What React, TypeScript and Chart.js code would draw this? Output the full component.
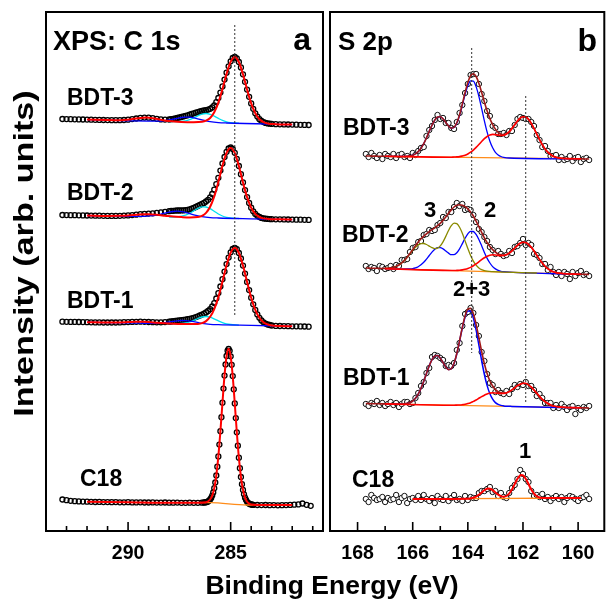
import React, { useEffect, useRef } from "react";
import { Chart, registerables } from "chart.js";

Chart.register(...registerables);

const FONT = '"Liberation Sans", Arial, Helvetica, sans-serif';

// ================= Panel a : C 1s =================
const eA = [293.2, 293.0, 292.8, 292.6, 292.4, 292.2, 292.0, 291.8, 291.6, 291.4, 291.2, 291.0, 290.8, 290.6, 290.4, 290.2, 290.0, 289.8, 289.6, 289.4, 289.2, 289.0, 288.8, 288.6, 288.4, 288.2,
  288.0, 287.9, 287.8, 287.7, 287.6, 287.5, 287.4, 287.3, 287.2, 287.1, 287.0, 286.9, 286.8, 286.7, 286.6, 286.5, 286.4, 286.3, 286.2, 286.1, 286.0, 285.9, 285.8, 285.7, 285.6, 285.5, 285.4, 285.3, 285.2, 285.1, 285.0, 284.9, 284.8, 284.7, 284.6, 284.5, 284.4, 284.3, 284.2, 284.1, 284.0, 283.9, 283.8, 283.7, 283.6, 283.5, 283.4, 283.3, 283.2, 283.1, 283.0,
  282.8, 282.6, 282.4, 282.2, 282.0, 281.8, 281.6, 281.4, 281.2];

const c1sBDT3 = [412.0, 411.9, 411.8, 411.7, 411.6, 411.5, 411.4, 411.3, 411.2, 411.1, 411.0, 410.9, 410.8, 410.8, 410.8, 411.0, 411.3, 411.9, 412.5, 413.1, 413.4, 413.3, 412.9, 412.2, 411.6, 411.4,
  411.5, 411.8, 412.1, 412.5, 413.0, 413.5, 414.0, 414.6, 415.2, 415.7, 416.3, 417.0, 417.7, 418.3, 418.9, 419.5, 420.0, 420.5, 420.9, 421.4, 422.2, 423.6, 425.7, 428.8, 433.0, 438.4, 444.6, 451.4, 458.3, 464.7, 469.7, 473.0, 474.0, 472.7, 469.0, 463.6, 456.7, 449.2, 441.4, 434.2, 427.6, 422.2, 417.7, 414.4, 411.8, 410.1, 408.9, 408.1, 407.6, 407.3, 407.1,
  406.8, 406.7, 406.6, 406.5, 406.4, 406.3, 406.2, 406.1, 406.0];

const c1sBDT2 = [316.0, 315.9, 315.8, 315.8, 315.7, 315.6, 315.5, 315.4, 315.3, 315.3, 315.2, 315.1, 315.1, 315.1, 315.2, 315.4, 315.6, 315.9, 316.3, 316.8, 317.1, 317.4, 317.7, 318.1, 318.7, 319.2,
  319.8, 320.1, 320.2, 320.4, 320.5, 320.5, 320.6, 320.7, 320.8, 321.2, 321.6, 322.3, 323.1, 324.0, 325.0, 326.0, 327.1, 328.1, 329.5, 331.2, 333.7, 337.0, 341.4, 346.9, 353.2, 360.4, 367.5, 374.0, 379.2, 382.5, 383.5, 382.0, 378.2, 372.2, 365.0, 356.8, 348.6, 340.9, 333.9, 328.1, 323.3, 319.7, 317.1, 315.2, 314.0, 313.1, 312.6, 312.3, 312.1, 311.9, 311.8,
  311.7, 311.7, 311.6, 311.5, 311.4, 311.3, 311.3, 311.2, 311.1];

const c1sBDT1 = [209.3, 209.2, 209.1, 209.1, 209.0, 208.9, 208.8, 208.7, 208.6, 208.6, 208.5, 208.5, 208.5, 208.5, 208.6, 208.8, 208.9, 209.1, 209.2, 209.3, 209.2, 209.0, 208.8, 208.7, 208.7, 208.9,
  209.3, 209.5, 209.8, 210.1, 210.4, 210.6, 210.9, 211.2, 211.4, 211.8, 212.1, 212.6, 213.2, 213.9, 214.7, 215.5, 216.4, 217.3, 218.6, 220.0, 221.9, 224.5, 227.9, 232.5, 237.9, 244.5, 251.8, 259.4, 266.9, 273.4, 278.7, 282.0, 283.1, 281.8, 278.0, 272.5, 265.4, 257.4, 249.1, 240.9, 233.3, 226.7, 221.1, 216.6, 213.2, 210.6, 208.7, 207.4, 206.5, 206.0, 205.5,
  205.1, 205.0, 204.9, 204.8, 204.7, 204.7, 204.6, 204.5, 204.3];

const eC18 = [293.2, 293.0, 292.8, 292.6, 292.4, 292.2, 292.0, 291.8, 291.6, 291.4, 291.2, 291.0, 290.8, 290.6, 290.4, 290.2, 290.0, 289.8, 289.6, 289.4, 289.2, 289.0, 288.8, 288.6, 288.4, 288.2, 288.0, 287.8, 287.6, 287.4, 287.2, 287.0, 286.8, 286.6, 286.4,
  286.3, 286.25, 286.2, 286.15, 286.1, 286.05, 286.0, 285.95, 285.9, 285.85, 285.8, 285.75, 285.7, 285.65, 285.6, 285.55, 285.5, 285.45, 285.4, 285.35, 285.3, 285.25, 285.2, 285.15, 285.1, 285.05, 285.0, 284.95, 284.9, 284.85, 284.8, 284.75, 284.7, 284.65, 284.6, 284.55, 284.5, 284.45, 284.4, 284.35, 284.3, 284.25, 284.2, 284.15, 284.1, 284.05, 284.0, 283.95, 283.9,
  283.7, 283.5, 283.3, 283.1, 282.9, 282.7, 282.5, 282.3, 282.1, 281.9, 281.7, 281.5, 281.3, 281.1];

const c1sC18 = [31.5, 30.8, 30.2, 29.8, 29.6, 29.4, 29.3, 29.2, 29.0, 29.1, 28.9, 28.9, 28.8, 28.9, 28.7, 28.7, 28.8, 28.6, 28.6, 28.7, 28.5, 28.5, 28.6, 28.4, 28.4, 28.5, 28.3, 28.3, 28.4, 28.2, 28.2, 28.3, 28.2, 28.2, 28.3,
  28.5, 28.6, 28.8, 29.1, 29.6, 30.4, 31.5, 33.1, 35.4, 38.6, 42.8, 48.5, 55.5, 64.3, 74.6, 86.4, 99.8, 113.8, 128.3, 142.4, 155.4, 166.5, 175.0, 180.3, 182.2, 180.2, 174.7, 166.2, 154.9, 141.7, 127.6, 112.9, 98.7, 85.3, 73.3, 62.8, 54.0, 46.8, 41.1, 36.7, 33.3, 31.0, 29.2, 28.1, 27.3, 26.8, 26.5, 26.3, 26.1,
  26.0, 25.9, 26.0, 25.8, 25.9, 25.7, 25.8, 25.9, 26.1, 26.3, 26.6, 27.5, 26.2, 25.2];

// fitted components, panel a
const a3RedE = [292.0, 291.0, 290.6, 290.2, 289.8, 289.4, 289.1, 288.8, 288.4, 288.0, 287.4, 286.8, 286.4, 286.2, 286.0, 285.8, 285.6, 285.4, 285.2, 285.0, 284.8, 284.6, 284.4, 284.2, 284.0, 283.8, 283.6, 283.4, 283.2, 282.8, 282.0];
const a3Red = [411.4, 410.9, 410.8, 411.0, 411.9, 413.1, 413.45, 412.8, 411.2, 409.9, 409.1, 408.85, 409.2, 410.3, 413.0, 418.7, 428.4, 442.0, 457.1, 469.2, 473.8, 469.0, 456.7, 441.4, 427.6, 417.7, 411.8, 408.9, 407.6, 406.8, 406.4];
const a3CyanE = [288.0, 287.6, 287.2, 287.0, 286.8, 286.6, 286.4, 286.2, 286.0, 285.8, 285.6, 285.4, 285.2, 285.0, 284.8, 284.6];
const a3Cyan = [409.4, 409.4, 410.2, 411.4, 413.2, 415.2, 416.9, 417.5, 416.7, 414.8, 412.6, 410.6, 409.2, 408.4, 408.0, 407.75];
const a3BlueE = [292.0, 289.0, 288.6, 288.2, 288.0, 287.8, 287.6, 287.4, 287.2, 287.0, 286.8, 286.6, 286.4, 286.2, 286.0, 285.6, 285.2, 282.0];
const a3Blue = [411.4, 409.9, 409.9, 410.4, 411.0, 411.8, 412.7, 413.5, 413.9, 413.8, 413.2, 412.2, 411.1, 410.1, 409.3, 408.4, 408.0, 406.4];

const a2RedE = [292.0, 291.0, 290.4, 290.0, 289.6, 289.2, 289.0, 288.6, 288.2, 287.8, 287.4, 287.0, 286.6, 286.4, 286.2, 286.0, 285.8, 285.6, 285.4, 285.2, 285.0, 284.8, 284.6, 284.4, 284.2, 284.0, 283.8, 283.6, 283.4, 283.2, 282.6, 282.0];
const a2Red = [315.5, 315.1, 315.2, 315.6, 316.2, 316.8, 316.8, 316.2, 315.3, 314.4, 313.9, 313.6, 314.0, 315.2, 318.1, 324.2, 334.6, 349.1, 365.3, 378.2, 383.1, 378.1, 365.0, 348.6, 333.9, 323.3, 317.1, 314.0, 312.6, 312.1, 311.7, 311.4];
const a2CyanE = [288.0, 287.6, 287.2, 287.0, 286.8, 286.6, 286.4, 286.3, 286.2, 286.0, 285.8, 285.6, 285.4, 285.2, 285.0, 284.8, 284.6];
const a2Cyan = [313.9, 314.2, 315.8, 317.6, 320.1, 322.6, 324.1, 324.2, 324.0, 322.3, 319.7, 317.0, 315.0, 313.7, 313.0, 312.7, 312.5];
const a2BlueE = [292.0, 289.6, 289.2, 288.8, 288.4, 288.0, 287.8, 287.6, 287.4, 287.2, 286.8, 286.4, 286.0, 285.6, 284.0, 282.0];
const a2Blue = [315.5, 314.6, 314.7, 315.3, 316.9, 318.9, 319.5, 319.8, 319.4, 318.6, 316.2, 314.4, 313.4, 313.0, 312.2, 311.4];

const a1RedE = [292.0, 291.0, 290.4, 290.0, 289.6, 289.3, 289.0, 288.6, 288.2, 287.8, 287.2, 286.8, 286.6, 286.4, 286.2, 286.0, 285.8, 285.6, 285.4, 285.2, 285.0, 284.8, 284.6, 284.4, 284.2, 284.0, 283.8, 283.6, 283.4, 283.2, 283.0, 282.6, 282.0];
const a1Red = [208.8, 208.5, 208.6, 208.9, 209.2, 209.2, 209.0, 208.3, 207.7, 207.25, 206.9, 206.9, 207.1, 207.9, 209.9, 214.2, 221.9, 233.9, 249.6, 265.8, 278.2, 282.9, 278.0, 265.4, 249.1, 233.3, 221.1, 213.2, 208.7, 206.5, 205.5, 205.0, 204.7];
const a1CyanE = [287.8, 287.4, 287.2, 287.0, 286.8, 286.6, 286.4, 286.2, 286.0, 285.8, 285.6, 285.4, 285.2, 285.0, 284.6];
const a1Cyan = [207.2, 207.5, 208.0, 209.0, 210.7, 212.5, 214.0, 214.5, 213.8, 212.1, 210.1, 208.4, 207.2, 206.5, 205.85];
const a1BlueE = [292.0, 289.4, 289.0, 288.6, 288.2, 288.0, 287.8, 287.6, 287.4, 287.2, 287.0, 286.8, 286.6, 286.4, 286.0, 285.6, 284.0, 282.0];
const a1Blue = [208.8, 207.8, 207.7, 207.7, 208.4, 209.0, 209.6, 210.2, 210.5, 210.4, 209.9, 209.3, 208.5, 207.7, 206.7, 206.3, 205.6, 204.7];

const a0RedE = [292.0, 290.0, 288.0, 286.6, 286.2, 286.0, 285.9, 285.8, 285.7, 285.6, 285.5, 285.4, 285.3, 285.2, 285.1, 285.0, 284.9, 284.8, 284.7, 284.6, 284.5, 284.4, 284.3, 284.2, 284.1, 284.0, 283.6, 282.0];
const a0Red = [29.3, 28.8, 28.3, 28.3, 28.8, 31.5, 35.4, 42.8, 55.5, 74.6, 99.8, 128.3, 155.4, 175.0, 182.2, 174.7, 154.9, 127.6, 98.7, 73.3, 54.0, 41.1, 33.3, 29.2, 27.3, 26.5, 26.0, 26.0];
const a0BaseE = [286.3, 286.0, 284.2, 283.9];
const a0Base = [28.3, 28.3, 26.0, 26.0];

const aDotE = [284.8, 284.8];
const aDotV = [506, 216];

// ================= Panel b : S 2p =================
const eB = [167.7, 167.6, 167.5, 167.4, 167.3, 167.2, 167.1, 167.0, 166.9, 166.8,
  166.7, 166.6, 166.5, 166.4, 166.3, 166.2, 166.1, 166.0, 165.9, 165.8,
  165.7, 165.6, 165.5, 165.4, 165.3, 165.2, 165.1, 165.0, 164.9, 164.8,
  164.7, 164.6, 164.5, 164.4, 164.3, 164.2, 164.1, 164.0, 163.9, 163.8,
  163.7, 163.6, 163.5, 163.4, 163.3, 163.2, 163.1, 163.0, 162.9, 162.8,
  162.7, 162.6, 162.5, 162.4, 162.3, 162.2, 162.1, 162.0, 161.9, 161.8,
  161.7, 161.6, 161.5, 161.4, 161.3, 161.2, 161.1, 161.0, 160.9, 160.8,
  160.7, 160.6, 160.5, 160.4, 160.3, 160.2, 160.1, 160.0, 159.9, 159.8,
  159.7, 159.6];

const s2pBDT3 = [377, 374, 378, 375, 373, 376, 372, 377, 375, 374, 377, 373, 376, 377, 374, 375, 373, 378, 376, 380,
  383, 384, 395, 401, 405, 411, 416, 412, 413, 408, 408, 403, 402, 409, 418, 426, 438, 447, 456, 457,
  457, 447, 437, 430, 420, 415, 405, 403, 397, 397, 398, 396, 400, 400, 406, 412, 414, 413, 412, 412,
  409, 405, 396, 391, 384, 385, 380, 375, 375, 376, 371, 374, 371, 372, 375, 370, 373, 374, 369, 372, 373, 371];
const s2pBDT3Fit = [375.0, 375.0, 374.9, 374.9, 374.8, 374.8, 374.8, 374.7, 374.7, 374.6, 374.6, 374.6, 374.5, 374.5, 374.6, 374.7, 375.1, 375.8, 377.2, 379.4,
  382.8, 387.4, 393.2, 399.7, 405.9, 410.9, 413.9, 414.2, 412.1, 408.6, 405.0, 402.8, 403.7, 408.2, 416.2, 427.0, 438.5, 448.6, 455.4, 457.3,
  454.5, 447.8, 438.7, 429.0, 420.0, 412.4, 406.4, 401.9, 398.7, 396.8, 396.4, 397.2, 399.2, 402.5, 406.2, 409.9, 412.9, 414.3, 414.0, 411.7,
  407.6, 402.6, 396.9, 391.4, 386.4, 382.1, 378.9, 376.5, 374.8, 373.8, 373.1, 372.7, 372.5, 372.4, 372.3, 372.2, 372.2, 372.1, 372.1, 372.1, 372.0, 372.0];

const s2pBDT2 = [265, 262, 264, 263, 260, 265, 264, 262, 263, 265, 262, 266, 265, 271, 271, 272, 279, 283, 284, 289,
  290, 296, 297, 301, 300, 301, 306, 308, 314, 313, 319, 319, 324, 328, 325, 327, 321, 322, 321, 316,
  309, 302, 299, 294, 290, 284, 281, 277, 280, 277, 275, 276, 280, 278, 284, 285, 288, 292, 286, 288,
  286, 277, 276, 273, 267, 267, 261, 264, 259, 256, 259, 255, 259, 257, 252, 259, 255, 258, 260, 256, 257, 255];
const s2pBDT2Fit = [263.0, 262.9, 262.8, 262.7, 262.7, 262.6, 262.5, 262.6, 262.8, 263.1, 263.7, 264.6, 266.0, 268.0, 270.6, 273.9, 277.5, 281.4, 285.2, 288.9,
  292.2, 294.9, 297.2, 299.3, 301.3, 303.2, 305.3, 307.7, 310.6, 314.0, 317.8, 321.1, 324.0, 325.7, 326.3, 325.8, 324.3, 322.1, 319.0, 315.0,
  309.9, 304.4, 298.7, 293.2, 288.4, 284.6, 281.4, 278.9, 277.1, 276.1, 275.8, 276.4, 277.9, 280.2, 283.0, 285.7, 287.7, 288.7, 288.4, 286.6,
  283.7, 280.0, 275.8, 271.6, 267.9, 264.8, 262.4, 260.5, 259.2, 258.4, 257.9, 257.6, 257.3, 257.2, 257.0, 257.0, 256.9, 256.8, 256.7, 256.7, 256.6, 256.5];

const s2pBDT1 = [127, 125, 128, 127, 130, 126, 128, 125, 127, 129, 126, 128, 124, 127, 129, 129, 127, 128, 133, 138,
  145, 149, 158, 163, 174, 176, 175, 173, 171, 165, 166, 165, 168, 181, 188, 205, 217, 219, 223, 218,
  206, 195, 179, 170, 157, 148, 146, 139, 141, 138, 137, 140, 137, 142, 146, 144, 147, 146, 149, 145,
  145, 141, 135, 137, 133, 128, 128, 128, 123, 126, 123, 127, 124, 121, 124, 125, 117, 123, 121, 124, 123, 125];
const s2pBDT1Fit = [127.5, 127.4, 127.3, 127.3, 127.2, 127.2, 127.1, 127.1, 127.0, 127.0, 126.9, 126.9, 126.9, 127.0, 127.1, 127.6, 128.4, 130.0, 132.8, 136.9,
  142.6, 149.7, 157.6, 165.2, 171.4, 175.0, 175.5, 172.8, 168.5, 164.0, 161.4, 162.3, 167.7, 177.5, 190.2, 203.7, 215.1, 221.9, 222.6, 217.2,
  206.6, 193.4, 179.7, 167.2, 157.4, 150.0, 145.0, 141.5, 139.4, 138.3, 137.9, 138.2, 139.4, 141.1, 143.2, 145.3, 146.8, 147.7, 147.4, 146.1,
  143.8, 141.0, 137.7, 134.6, 131.7, 129.4, 127.5, 126.0, 125.1, 124.5, 124.1, 123.8, 123.7, 123.4, 123.4, 123.3, 123.3, 123.2, 123.2, 123.1, 123.1, 123.0];

const s2pC18 = [32, 29, 36, 33, 31, 32, 34, 29, 33, 31, 32, 36, 29, 33, 35, 28, 32, 33, 31, 35,
  31, 36, 32, 30, 33, 28, 35, 32, 31, 35, 30, 33, 36, 31, 32, 30, 35, 31, 34, 33,
  33, 38, 40, 40, 42, 44, 39, 40, 35, 38, 34, 33, 38, 43, 46, 52, 61, 57, 52, 49,
  40, 35, 36, 34, 37, 32, 34, 30, 33, 35, 32, 34, 29, 33, 35, 34, 32, 30, 33, 34, 36, 32];

// fitted components, panel b
const b3BlueE = [167.0, 166.4, 166.3, 166.2, 166.1, 166.0, 165.9, 165.8, 165.7, 165.6, 165.5, 165.4, 165.3, 165.2, 165.1, 165.0, 164.9, 164.8, 164.7, 164.6, 164.5, 164.4, 164.3, 164.2, 164.1, 164.0, 163.9, 163.8, 163.7, 163.6, 163.5, 163.4, 163.3, 163.2, 163.1, 163.0, 162.9, 162.8, 162.7, 162.5, 159.9];
const b3Blue = [374.7, 374.55, 374.6, 374.7, 375.1, 375.8, 377.2, 379.4, 382.8, 387.4, 393.2, 399.7, 405.9, 410.9, 413.9, 414.2, 412.1, 408.6, 405.0, 402.8, 403.5, 407.8, 415.5, 425.8, 436.4, 445.2, 450.2, 449.9, 444.4, 434.7, 422.6, 410.1, 398.8, 389.8, 383.2, 378.7, 376.1, 374.5, 373.7, 373.0, 372.1];
const b3RedE = [167.0, 164.6, 164.5, 164.4, 164.3, 164.2, 164.1, 164.0, 163.9, 163.8, 163.7, 163.6, 163.5, 163.4, 163.3, 163.2, 163.1, 163.0, 162.9, 162.8, 162.7, 162.6, 162.5, 162.4, 162.3, 162.2, 162.1, 162.0, 161.9, 161.8, 161.7, 161.6, 161.5, 161.4, 161.3, 161.2, 161.1, 161.0, 160.9, 160.8, 160.7, 160.6, 160.4, 159.9];
const b3Red = [374.7, 373.8, 374.0, 374.1, 374.4, 375.0, 375.7, 377.0, 378.8, 380.9, 383.6, 386.5, 389.5, 392.3, 394.5, 395.9, 396.6, 396.4, 395.9, 395.5, 395.7, 397.0, 399.2, 402.5, 406.2, 409.9, 412.9, 414.3, 414.0, 411.7, 407.6, 402.6, 396.9, 391.4, 386.4, 382.1, 378.9, 376.5, 374.8, 373.8, 373.1, 372.7, 372.4, 372.1];
const b3BaseE = [167.0, 159.9];
const b3Base = [374.7, 372.1];

const b2OliveE = [167.0, 166.9, 166.8, 166.7, 166.6, 166.5, 166.4, 166.3, 166.2, 166.1, 166.0, 165.9, 165.8, 165.7, 165.6, 165.5, 165.4, 165.3, 165.2, 165.1, 165.0, 164.9, 164.8, 164.7, 164.6, 164.5, 164.4, 164.3, 164.2, 164.1, 164.0, 163.9, 163.8, 163.7, 163.6, 163.5, 163.4, 163.3, 163.1, 161.5];
const b2Olive = [262.6, 262.8, 263.1, 263.7, 264.6, 266.0, 268.0, 270.5, 273.7, 277.1, 280.6, 283.6, 286.0, 287.4, 287.5, 286.5, 284.9, 283.4, 282.4, 282.9, 285.1, 289.2, 294.6, 300.5, 305.3, 307.9, 307.4, 303.7, 297.7, 290.1, 282.4, 275.5, 269.9, 265.8, 263.1, 261.3, 260.3, 259.8, 259.4, 258.0];
const b2BlueE = [167.0, 166.4, 166.2, 166.1, 166.0, 165.9, 165.8, 165.7, 165.6, 165.5, 165.4, 165.3, 165.2, 165.1, 165.0, 164.9, 164.8, 164.7, 164.6, 164.5, 164.4, 164.3, 164.2, 164.1, 164.0, 163.9, 163.8, 163.7, 163.6, 163.5, 163.4, 163.3, 163.2, 163.1, 163.0, 162.9, 162.8, 162.7, 162.5, 159.9];
const b2Blue = [262.4, 261.9, 262.0, 262.1, 262.4, 263.1, 264.3, 266.2, 268.7, 271.9, 275.5, 278.9, 281.8, 283.3, 283.4, 282.1, 280.0, 277.9, 276.3, 276.4, 278.3, 282.2, 287.4, 292.7, 297.2, 299.7, 299.5, 296.6, 291.5, 285.2, 278.6, 272.6, 268.0, 264.4, 262.1, 260.6, 259.7, 259.3, 258.8, 256.7];
const redCompE = [167.0, 164.6, 164.5, 164.4, 164.3, 164.2, 164.1, 164.0, 163.9, 163.8, 163.7, 163.6, 163.5, 163.4, 163.3, 163.2, 163.1, 163.0, 162.9, 162.8, 162.7, 162.6, 162.5, 162.4, 162.3, 162.2, 162.1, 162.0, 161.9, 161.8, 161.7, 161.6, 161.5, 161.4, 161.3, 161.2, 161.1, 161.0, 160.9, 160.8, 160.7, 160.5, 159.9];
const b2Red = [262.4, 260.5, 260.5, 260.6, 260.7, 261.1, 261.7, 262.5, 263.6, 265.2, 267.1, 269.2, 271.4, 273.2, 274.8, 275.8, 276.2, 276.0, 275.6, 275.4, 275.5, 276.3, 277.9, 280.2, 283.0, 285.7, 287.7, 288.7, 288.4, 286.6, 283.7, 280.0, 275.8, 271.6, 267.9, 264.8, 262.4, 260.5, 259.2, 258.4, 257.9, 257.3, 256.7];
const b2BaseE = [167.0, 159.9];
const b2Base = [262.4, 256.7];

const b1BlueE = [167.0, 166.6, 166.5, 166.4, 166.3, 166.2, 166.1, 166.0, 165.9, 165.8, 165.7, 165.6, 165.5, 165.4, 165.3, 165.2, 165.1, 165.0, 164.9, 164.8, 164.7, 164.6, 164.5, 164.4, 164.3, 164.2, 164.1, 164.0, 163.9, 163.8, 163.7, 163.6, 163.5, 163.4, 163.3, 163.2, 163.1, 163.0, 162.9, 162.8, 162.7, 162.6, 162.4, 159.9];
const b1Blue = [127.1, 126.9, 126.9, 127.0, 127.1, 127.6, 128.4, 130.0, 132.8, 136.9, 142.6, 149.7, 157.6, 165.2, 171.4, 175.0, 175.5, 172.8, 168.5, 164.0, 161.4, 162.3, 167.6, 177.3, 189.8, 203.0, 213.9, 220.0, 219.7, 213.0, 200.9, 186.0, 170.5, 156.5, 145.4, 137.2, 131.8, 128.4, 126.6, 125.6, 125.1, 124.8, 124.6, 123.2];
const b1Red = [127.1, 125.8, 125.8, 125.9, 126.0, 126.3, 126.7, 127.4, 128.3, 129.6, 131.0, 132.7, 134.4, 135.8, 137.1, 137.8, 138.2, 138.0, 137.7, 137.5, 137.6, 138.1, 139.4, 141.1, 143.2, 145.3, 146.8, 147.7, 147.4, 146.1, 143.8, 141.0, 137.7, 134.6, 131.7, 129.4, 127.5, 126.0, 125.1, 124.5, 124.1, 123.7, 123.2];
const b1BaseE = [167.0, 159.9];
const b1Base = [127.1, 123.2];

const b0RedE = [166.0, 164.0, 163.9, 163.8, 163.7, 163.6, 163.5, 163.4, 163.3, 163.25, 163.2, 163.1, 163.0, 162.9, 162.8, 162.7, 162.6, 162.5, 162.4, 162.3, 162.2, 162.1, 162.05, 162.0, 161.9, 161.8, 161.7, 161.6, 161.5, 161.4, 161.3, 161.2, 159.9];
const b0Red = [32.0, 32.3, 32.7, 33.3, 34.4, 36.2, 38.5, 40.8, 42.3, 42.5, 42.3, 40.9, 38.6, 36.4, 34.9, 34.3, 35.0, 37.4, 41.4, 46.9, 52.2, 55.6, 56.1, 55.6, 52.2, 47.0, 41.5, 37.4, 34.8, 33.5, 33.0, 32.9, 33.0];
const b0BaseE = [166.0, 159.9];
const b0Base = [32.0, 33.0];

const bDot1E = [163.86, 163.86];
const bDot1V = [483, 178];
const bDot2E = [161.9, 161.9];
const bDot2V = [435, 129];

// ================= helpers =================
const RED = "#ff0000";
const BLUE = "#0000ff";
const CYAN = "#00e0ee";
const OLIVE = "#8a8a00";
const ORANGE = "#ff8c1a";
const ENV = "#a01818";

const pts = (xs: number[], ys: number[]) => xs.map((x, i) => ({ x, y: ys[i] }));

const dataSet = (xs: number[], ys: number[], panelB: boolean) => ({
  data: pts(xs, ys),
  showLine: false,
  pointStyle: "circle",
  pointRadius: panelB ? 2.7 : 2.5,
  pointBorderWidth: panelB ? 1 : 1.3,
  pointBorderColor: panelB ? "#111" : "#000",
  pointBackgroundColor: panelB ? "#ffffff" : "rgba(255,255,255,0)",
  pointHoverRadius: 0,
  order: 10,
});

const lineSet = (xs: number[], ys: number[], color: string, width = 1.5, order = 2) => ({
  data: pts(xs, ys),
  showLine: true,
  pointRadius: 0,
  pointHoverRadius: 0,
  borderColor: color,
  backgroundColor: color,
  borderWidth: width,
  cubicInterpolationMode: "monotone",
  fill: false,
  order,
});

const dotSet = (xs: number[], ys: number[]) => ({
  data: pts(xs, ys),
  showLine: true,
  pointRadius: 0,
  pointHoverRadius: 0,
  borderColor: "#333",
  borderWidth: 1,
  borderDash: [2, 2],
  tension: 0,
  fill: false,
  order: 0,
});

type Txt = { t: string; x: number; y: number; s: number; a?: CanvasTextAlign };

const textsA: Txt[] = [
  { t: "XPS: C 1s", x: 53, y: 50, s: 27 },
  { t: "a", x: 311, y: 50, s: 32, a: "right" },
  { t: "BDT-3", x: 67, y: 105, s: 23 },
  { t: "BDT-2", x: 67, y: 200, s: 23 },
  { t: "BDT-1", x: 67, y: 308, s: 23 },
  { t: "C18", x: 80, y: 486, s: 23 },
  { t: "Binding Energy (eV)", x: 332, y: 594, s: 26.5, a: "center" },
];
const textsB: Txt[] = [
  { t: "S 2p", x: 338, y: 50, s: 26 },
  { t: "b", x: 597, y: 51, s: 32, a: "right" },
  { t: "BDT-3", x: 343, y: 135, s: 23 },
  { t: "BDT-2", x: 342, y: 242, s: 23 },
  { t: "BDT-1", x: 343, y: 385, s: 23 },
  { t: "C18", x: 352, y: 487, s: 23 },
  { t: "3", x: 424, y: 216.5, s: 22 },
  { t: "2", x: 484, y: 216.5, s: 22 },
  { t: "2+3", x: 453, y: 296, s: 22 },
  { t: "1", x: 519, y: 458, s: 22 },
];

const decor = (id: string, majorEvery: number, texts: Txt[], yTitle: boolean) => ({
  id,
  afterDraw(chart: any) {
    const ctx: CanvasRenderingContext2D = chart.ctx;
    const ca = chart.chartArea;
    const xs = chart.scales.x;
    ctx.save();
    ctx.strokeStyle = "#000";
    ctx.lineWidth = 1.6;
    for (let v = Math.ceil(xs.min); v <= Math.floor(xs.max); v++) {
      const px = xs.getPixelForValue(v);
      const len = v % majorEvery === 0 ? 9 : 5;
      ctx.beginPath();
      ctx.moveTo(px, ca.bottom);
      ctx.lineTo(px, ca.bottom - len);
      ctx.stroke();
    }
    ctx.lineWidth = 2;
    ctx.strokeRect(ca.left, ca.top, ca.right - ca.left, ca.bottom - ca.top);
    ctx.fillStyle = "#000";
    ctx.textBaseline = "alphabetic";
    for (const t of texts) {
      ctx.font = `bold ${t.s}px ${FONT}`;
      ctx.textAlign = t.a || "left";
      ctx.fillText(t.t, t.x, t.y);
    }
    if (yTitle) {
      ctx.save();
      ctx.translate(33, 253.5);
      ctx.rotate(-Math.PI / 2);
      ctx.scale(1.22, 1);
      ctx.font = `bold 28px ${FONT}`;
      ctx.textAlign = "center";
      ctx.fillText("Intensity (arb. units)", 0, 0);
      ctx.restore();
    }
    ctx.restore();
  },
});

const makeOptions = (min: number, max: number, labelEvery: number, pad: any) => ({
  responsive: false,
  animation: false,
  events: [],
  layout: { padding: pad },
  plugins: { legend: { display: false }, tooltip: { enabled: false }, title: { display: false } },
  scales: {
    x: {
      type: "linear",
      min,
      max,
      reverse: true,
      grid: { display: false, drawTicks: false },
      border: { display: false },
      ticks: {
        stepSize: 1,
        autoSkip: false,
        includeBounds: false,
        maxRotation: 0,
        minRotation: 0,
        padding: 11,
        color: "#000",
        font: { family: FONT, size: 19.5, weight: "bold" },
        callback: (v: any) => {
          const n = Math.round(Number(v));
          return Math.abs(Number(v) - n) < 1e-6 && n % labelEvery === 0 ? String(n) : "";
        },
      },
      afterFit: (s: any) => {
        s.height = 70;
      },
    },
    y: { display: false, min: 0, max: 519 },
  },
});

export default function App() {
  const refA = useRef<HTMLCanvasElement>(null);
  const refB = useRef<HTMLCanvasElement>(null);

  useEffect(() => {
    const chartA = new Chart(refA.current as HTMLCanvasElement, {
      type: "scatter",
      data: {
        datasets: [
          dataSet(eA, c1sBDT3, false),
          dataSet(eA, c1sBDT2, false),
          dataSet(eA, c1sBDT1, false),
          dataSet(eC18, c1sC18, false),
          lineSet(a3BlueE, a3Blue, BLUE, 1.3, 3),
          lineSet(a3CyanE, a3Cyan, CYAN, 1.3, 3),
          lineSet(a3RedE, a3Red, RED, 2, 1),
          lineSet(a2BlueE, a2Blue, BLUE, 1.3, 3),
          lineSet(a2CyanE, a2Cyan, CYAN, 1.3, 3),
          lineSet(a2RedE, a2Red, RED, 2, 1),
          lineSet(a1BlueE, a1Blue, BLUE, 1.3, 3),
          lineSet(a1CyanE, a1Cyan, CYAN, 1.3, 3),
          lineSet(a1RedE, a1Red, RED, 2, 1),
          lineSet(a0BaseE, a0Base, ORANGE, 1.3, 3),
          lineSet(a0RedE, a0Red, RED, 2, 1),
          dotSet(aDotE, aDotV),
        ] as any,
      },
      options: makeOptions(280.5, 294, 5, { left: 46, right: 285, top: 12, bottom: 0 }) as any,
      plugins: [decor("decorA", 5, textsA, true)],
    });

    const chartB = new Chart(refB.current as HTMLCanvasElement, {
      type: "scatter",
      data: {
        datasets: [
          dataSet(eB, s2pBDT3, true),
          dataSet(eB, s2pBDT2, true),
          dataSet(eB, s2pBDT1, true),
          dataSet(eB, s2pC18, true),
          lineSet(b3BaseE, b3Base, ORANGE, 1.3, 4),
          lineSet(b3BlueE, b3Blue, BLUE, 1.3, 3),
          lineSet(eB, s2pBDT3Fit, ENV, 1.6, 2),
          lineSet(b3RedE, b3Red, RED, 1.6, 1),
          lineSet(b2BaseE, b2Base, ORANGE, 1.3, 4),
          lineSet(b2OliveE, b2Olive, OLIVE, 1.3, 3),
          lineSet(b2BlueE, b2Blue, BLUE, 1.3, 3),
          lineSet(eB, s2pBDT2Fit, ENV, 1.6, 2),
          lineSet(redCompE, b2Red, RED, 1.6, 1),
          lineSet(b1BaseE, b1Base, ORANGE, 1.3, 4),
          lineSet(b1BlueE, b1Blue, BLUE, 1.5, 3),
          lineSet(eB, s2pBDT1Fit, ENV, 1.6, 2),
          lineSet(redCompE, b1Red, RED, 1.6, 1),
          lineSet(b0BaseE, b0Base, ORANGE, 1.3, 4),
          lineSet(b0RedE, b0Red, RED, 2, 1),
          dotSet(bDot1E, bDot1V),
          dotSet(bDot2E, bDot2V),
        ] as any,
      },
      options: makeOptions(159.05, 169, 2, { left: 330, right: 3, top: 12, bottom: 0 }) as any,
      plugins: [decor("decorB", 2, textsB, false)],
    });

    return () => {
      chartA.destroy();
      chartB.destroy();
    };
  }, []);

  return (
    <div style={{ position: "absolute", left: 0, top: 0, width: 608, height: 601, background: "#fff" }}>
      <canvas ref={refA} width={608} height={601} style={{ position: "absolute", left: 0, top: 0 }} />
      <canvas ref={refB} width={608} height={601} style={{ position: "absolute", left: 0, top: 0 }} />
    </div>
  );
}
